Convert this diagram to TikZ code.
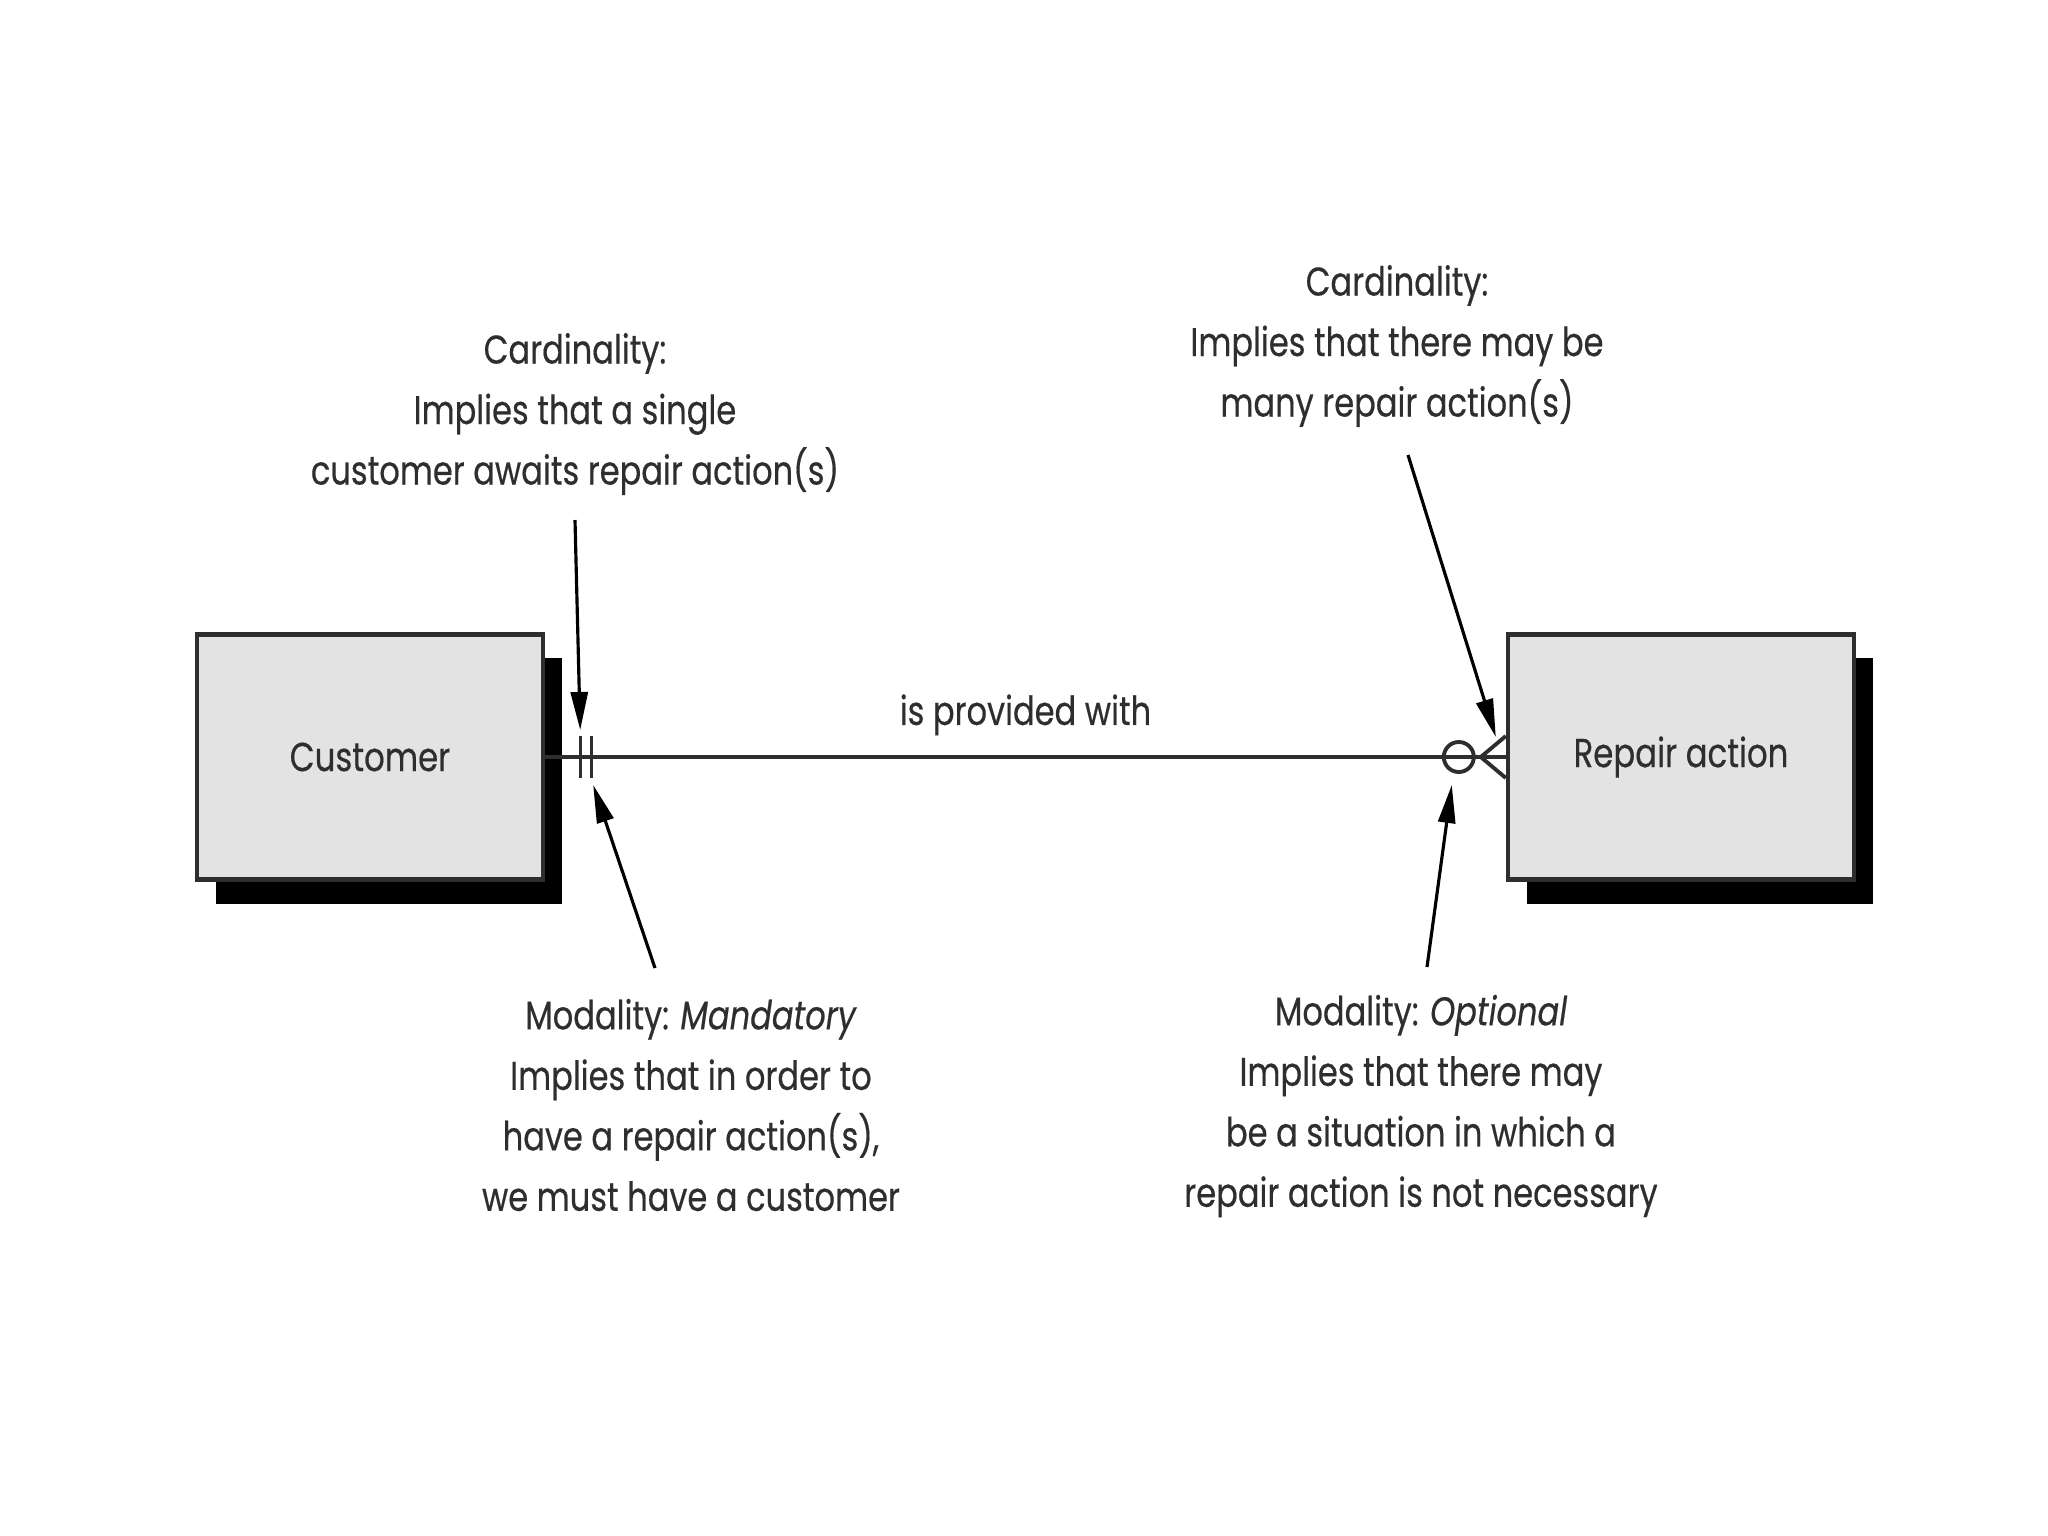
\documentclass[tikz,border=0pt]{standalone}
\usepackage{fontspec}
\setmainfont{Poppins}[FakeStretch=0.8, FakeBold=0.4]
\usepackage{tikz}
\usetikzlibrary{arrows.meta, positioning, calc, shadows}
\definecolor{entfill}{HTML}{E3E3E3}
\definecolor{inkgray}{HTML}{2E2E2E}

\begin{document}
\begin{tikzpicture}[x=0.01cm, y=-0.01cm,
    entity/.style={draw=inkgray, line width=1.2pt, fill=entfill,
                   minimum width=3.46cm, minimum height=2.45cm,
                   font=\fontsize{11.5}{14}\selectfont, text=inkgray,
                   drop shadow={shadow xshift=0.19cm, shadow yshift=-0.24cm,
                                fill=black, opacity=1}},
    note/.style={align=center, text=inkgray, font=\fontsize{11.4}{17.2}\selectfont},
    rel/.style={line width=1.1pt, draw=inkgray},
    pointer/.style={-{Triangle[length=0.38cm, width=0.17cm]}, line width=0.9pt},
]
    \useasboundingbox (0,0) rectangle (2048,1536);

    % Entities
    \node[entity] (cust) at (370, 757) {Customer};
    \node[entity] (rep) at (1681, 757) {Repair action};

    % Relationship
    \draw[rel] (cust.east) -- node[note, above=0.08cm] (relname) {is provided with} (rep.west);

    % one-and-only-one end
    \draw[rel, line width=0.9pt] ($(cust.east)+(35,-21)$) -- ($(cust.east)+(35,21)$);
    \draw[rel, line width=0.9pt] ($(cust.east)+(46,-21)$) -- ($(cust.east)+(46,21)$);

    % zero-or-many end
    \draw[rel] ($(rep.west)+(-47,0)$) circle (0.15cm);
    \draw[rel] ($(rep.west)+(0,-21)$) -- ($(rep.west)+(-25,0)$) -- ($(rep.west)+(0,21)$);

    % Notes
    \node[note] (card1) at (575, 414) {Cardinality:\\Implies that a single\\customer awaits repair action(s)};
    \node[note] (card2) at (1397, 346) {Cardinality:\\Implies that there may be\\many repair action(s)};
    \node[note] (mod1) at (691, 1105) {Modality: \textit{Mandatory}\\Implies that in order to\\have a repair action(s),\\we must have a customer};
    \node[note] (mod2) at (1421, 1106) {Modality: \textit{Optional}\\Implies that there may\\be a situation in which a\\repair action is not necessary};

    % Pointers
    \coordinate (tip1) at ($(cust.east)+(35,-27)$);
    \coordinate (tip2) at ($(cust.east)+(48,28)$);
    \coordinate (tip3) at ($(rep.west)+(-10,-20)$);
    \coordinate (tip4) at ($(rep.west)+(-54,28)$);
    \draw[pointer] (575, 520) -- (tip1);
    \draw[pointer] (655, 968) -- (tip2);
    \draw[pointer] (1408, 455) -- (tip3);
    \draw[pointer] (1427, 967) -- (tip4);
\end{tikzpicture}
\end{document}
